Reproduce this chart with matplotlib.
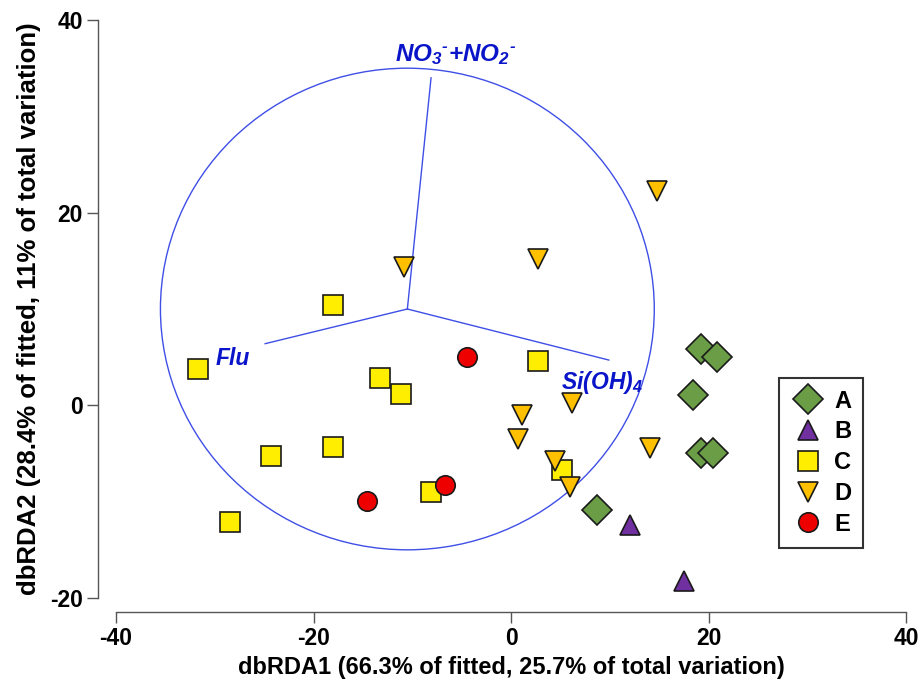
import matplotlib
matplotlib.use("Agg")
import matplotlib.pyplot as plt
from matplotlib.patches import Ellipse
from matplotlib.lines import Line2D

plt.rcParams['font.family'] = ['Liberation Sans', 'DejaVu Sans']
plt.rcParams['axes.unicode_minus'] = False
plt.rcParams['mathtext.fontset'] = 'custom'
plt.rcParams['mathtext.rm'] = 'Liberation Sans:bold:italic'
plt.rcParams['mathtext.it'] = 'Liberation Sans:bold:italic'
plt.rcParams['mathtext.bf'] = 'Liberation Sans:bold:italic'

# sample scores on dbRDA1 / dbRDA2, one pair of lists per group
a_x = [19.2, 20.8, 18.4, 19.2, 20.4, 8.7]
a_y = [5.9, 5.0, 1.1, -4.9, -5.0, -10.9]
b_x = [12.0, 17.5]
b_y = [-12.4, -18.2]
c_x = [-31.7, -18.0, -13.3, -11.1, -24.3, -18.0, -28.5, -8.1, 2.7, 5.2]
c_y = [3.8, 10.4, 2.8, 1.2, -5.3, -4.3, -12.1, -9.0, 4.6, -6.7]
d_x = [14.8, -10.8, 2.7, 1.1, 0.7, 6.2, 4.4, 6.0, 14.1]
d_y = [22.2, 14.4, 15.2, -1.0, -3.5, 0.2, -5.8, -8.5, -4.4]
e_x = [-4.5, -14.6, -6.7]
e_y = [5.0, -9.9, -8.3]

# vector overlay (centre, radius, tips and labels)
origin = (-10.5, 10.0)
radius = 25.0
vec_names = [r"NO$_3$$^{\text{-}}$+NO$_2$$^{\text{-}}$", "Flu", "Si(OH)$_4$"]
vec_x = [-8.1, -24.9, 9.9]
vec_y = [34.0, 6.4, 4.7]
lab_x = [-5.6, -28.2, 9.2]
lab_y = [36.4, 4.9, 2.4]
lab_size = [17.5, 16.5, 16.5]

groups = [
    ("A", a_x, a_y, "D", "#6a9d46", 15),
    ("B", b_x, b_y, "^", "#7030a0", 14),
    ("C", c_x, c_y, "s", "#ffee00", 14),
    ("D", d_x, d_y, "v", "#ffc000", 14),
    ("E", e_x, e_y, "o", "#ee0000", 14),
]

fig = plt.figure(figsize=(9.22, 6.86), dpi=100)
ax = fig.add_axes([0.1258, 0.1283, 0.857, 0.8425])

circle = Ellipse(origin, 2 * radius, 2 * radius, fill=False,
                 edgecolor="#3f4fe6", linewidth=1.0, zorder=1)
ax.add_patch(circle)
for vx, vy in zip(vec_x, vec_y):
    ax.plot([origin[0], vx], [origin[1], vy], color="#3f4fe6", lw=1.0, zorder=1)
for name, lx, ly, fs in zip(vec_names, lab_x, lab_y, lab_size):
    ax.text(lx, ly, name, color="#0a14c8", fontsize=fs, fontweight="bold",
            fontstyle="italic", ha="center", va="center", zorder=2)

handles = []
for name, xs, ys, mk, col, ms in groups:
    ax.plot(xs, ys, linestyle="none", marker=mk, markersize=ms,
            markerfacecolor=col, markeredgecolor="#1a1a1a",
            markeredgewidth=1.2, zorder=3)
    handles.append(Line2D([], [], linestyle="none", marker=mk, markersize=ms,
                          markerfacecolor=col, markeredgecolor="#1a1a1a",
                          markeredgewidth=1.2, label=name))

ax.set_xlim(-40, 40)
ax.set_ylim(-20, 40)
ax.set_xticks([-40, -20, 0, 20, 40])
ax.set_yticks([-20, 0, 20, 40])

for side in ["top", "right"]:
    ax.spines[side].set_visible(False)
ax.spines["left"].set_position(("outward", 13))
ax.spines["bottom"].set_position(("outward", 10))
for side in ["left", "bottom"]:
    ax.spines[side].set_color("#555555")
    ax.spines[side].set_linewidth(1.0)

ax.tick_params(axis="both", direction="out", length=8, width=1.0,
               color="#555555", labelsize=16.5, pad=3)
for lab in ax.get_xticklabels() + ax.get_yticklabels():
    lab.set_fontweight("bold")

ax.set_xlabel("dbRDA1 (66.3% of fitted, 25.7% of total variation)",
              fontsize=17, fontweight="bold", labelpad=4)
ax.set_ylabel("dbRDA2 (28.4% of fitted, 11% of total variation)",
              fontsize=18.5, fontweight="bold", labelpad=6)

leg = ax.legend(handles=handles, loc="upper left", bbox_to_anchor=(0.839, 0.381),
                borderaxespad=0, frameon=True, fancybox=False, edgecolor="black",
                prop={"size": 17, "weight": "bold"}, handletextpad=0.35,
                labelspacing=0.33, borderpad=0.5, handlelength=1.5)
leg.get_frame().set_linewidth(1.5)

fig.savefig("out.png", dpi=100)
